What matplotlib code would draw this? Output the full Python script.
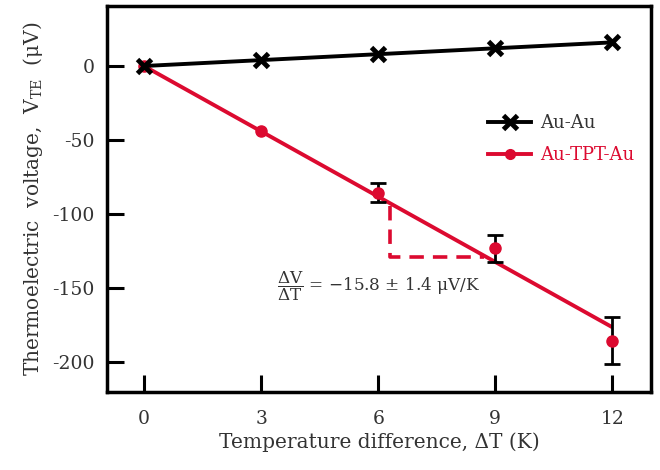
import matplotlib
matplotlib.use("Agg")
import matplotlib.pyplot as plt
from matplotlib.lines import Line2D

# Data
dT = [0, 3, 6, 9, 12]
v_auau = [0, 4, 8, 12, 16]
v_tpt = [0, -44, -85.7, -123.3, -185.8]
v_tpt_err = [0, 0, 6.2, 9.0, 16.0]
fit_x = [0, 12]
fit_y = [0, -176.8]
tri_x = [6.3, 6.3, 8.7]
tri_y = [-95, -129.4, -129.4]
xticks = [0, 3, 6, 9, 12]
yticks = [0, -50, -100, -150, -200]

RED = '#DC0A30'
FONT = 'DejaVu Serif'
plt.rcParams['font.family'] = [FONT]
plt.rcParams['mathtext.fontset'] = 'dejavuserif'

fig = plt.figure(figsize=(6.6, 4.7), dpi=100)
ax = fig.add_axes([0.162, 0.1666, 0.825, 0.8206])

# fit line for Au-TPT-Au
ax.plot(fit_x, fit_y, color=RED, lw=2.8, zorder=2, solid_capstyle='butt')
# dashed triangle
ax.plot(tri_x, tri_y, color=RED, lw=2.6, ls=(0, (4, 2.5)), zorder=2)
# error bars
ax.errorbar(dT[2:], v_tpt[2:], yerr=v_tpt_err[2:], fmt='none', ecolor='black',
            elinewidth=2, capsize=6, capthick=2, zorder=3)
ax.plot(dT, v_tpt, 'o', color=RED, ms=8, zorder=4)
# Au-Au
ax.plot(dT, v_auau, color='black', lw=2.8, marker='x', ms=10, mew=3.5, zorder=5)

ax.set_xlim(-0.95, 13.0)
ax.set_ylim(-220.4, 40.6)
ax.set_xticks(xticks)
ax.set_yticks(yticks)
ax.set_yticklabels([str(v) for v in yticks])

for s in ax.spines.values():
    s.set_linewidth(2.5)
ax.tick_params(direction='in', length=12.5, width=2.2, labelsize=13.5,
               colors='black', labelcolor='#333333')
ax.tick_params(axis='x', pad=13)
ax.tick_params(axis='y', pad=9)

ax.set_xlabel('Temperature difference, ΔT (K)', fontsize=14.5, color='#333333', labelpad=3)
ax.set_ylabel(r'Thermoelectric  voltage,  V$_{\mathregular{TE}}$  (μV)', fontsize=14.5,
              color='#333333', labelpad=5)

ax.text(3.4, -148.8, r'$\dfrac{\Delta\mathrm{V}}{\Delta\mathrm{T}}$ = −15.8 ± 1.4 μV/K',
        fontsize=12.2, color='#333333', va='center', ha='left')

handles = [Line2D([], [], color='black', lw=2.8, marker='x', ms=10, mew=3.5),
           Line2D([], [], color=RED, lw=2.8, marker='o', ms=7)]
leg = ax.legend(handles, ['Au-Au', 'Au-TPT-Au'], loc='center left',
                bbox_to_anchor=(0.67, 0.655), frameon=False, fontsize=13,
                handlelength=2.4, handletextpad=0.5, labelspacing=0.75)
leg.get_texts()[0].set_color('#333333')
leg.get_texts()[1].set_color(RED)

fig.savefig('out.png', dpi=100)
